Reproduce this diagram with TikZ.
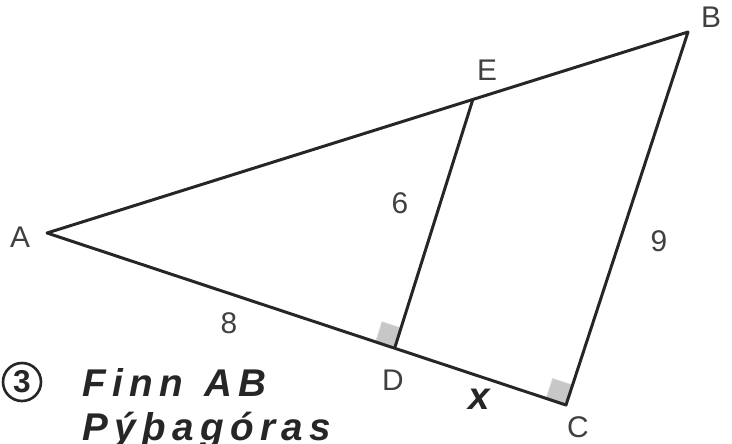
\documentclass[tikz,border=0pt]{standalone}
\usepackage{fontspec}
\setmainfont{Liberation Sans}
\usetikzlibrary{calc}
\begin{document}
\begin{tikzpicture}[x=0.02cm,y=-0.02cm,
    side/.style={line width=1.7pt, line join=round, black!85},
    lbl/.style={font=\fontsize{17}{20}\selectfont, text=black!75},
    hand/.style={font=\fontsize{22}{24}\selectfont\bfseries\itshape, text=black!85, anchor=west},
    rightmark/.style={fill=black!22, draw=black!15}]
    \useasboundingbox (0,0) rectangle (732,443);
    \clip (0,0) rectangle (732,443);
    % corners of the triangle
    \coordinate (A) at (47,233);
    \coordinate (B) at (688,32);
    \coordinate (C) at (566,405);
    \coordinate (D) at (395,347);
    \coordinate (E) at (473,99);
    % right angle marks
    \coordinate (Da) at ($(D)!0.4cm!(A)$);
    \coordinate (De) at ($(D)!0.4cm!(E)$);
    \fill[rightmark] (D) -- (Da) -- ($(Da)+(De)-(D)$) -- (De) -- cycle;
    \coordinate (Ca) at ($(C)!0.42cm!(A)$);
    \coordinate (Cb) at ($(C)!0.42cm!(B)$);
    \fill[rightmark] (C) -- (Ca) -- ($(Ca)+(Cb)-(C)$) -- (Cb) -- cycle;
    % sides
    \draw[side] (A) -- (B) -- (C) -- cycle;
    \draw[side] (D) -- (E);
    % labels
    \node[lbl] (labA) at (20,237) {A};
    \node[lbl] (labB) at (711,17) {B};
    \node[lbl] (labC) at (578,427) {C};
    \node[lbl] (labD) at (393,380) {D};
    \node[lbl] (labE) at (487,70) {E};
    \node[lbl] (lab6) at (400,203) {6};
    \node[lbl] (lab9) at (659,241) {9};
    \node[lbl] (lab8) at (229,323) {8};
    \node[hand, anchor=center] (labx) at (479,399) {x};
    % task text
    \node[draw, circle, line width=1.5pt, inner sep=1pt, minimum size=0.76cm,
          font=\fontsize{18}{20}\selectfont\bfseries, black!85] (num) at (22,382) {3};
    \node[hand] (task) at (76,382) {F\,i\,n\,n\ \ A\,B};
    \node[hand, anchor=base west] (hint) at (76,440) {P\,ý\,þ\,a\,g\,ó\,r\,a\,s};
\end{tikzpicture}
\end{document}
